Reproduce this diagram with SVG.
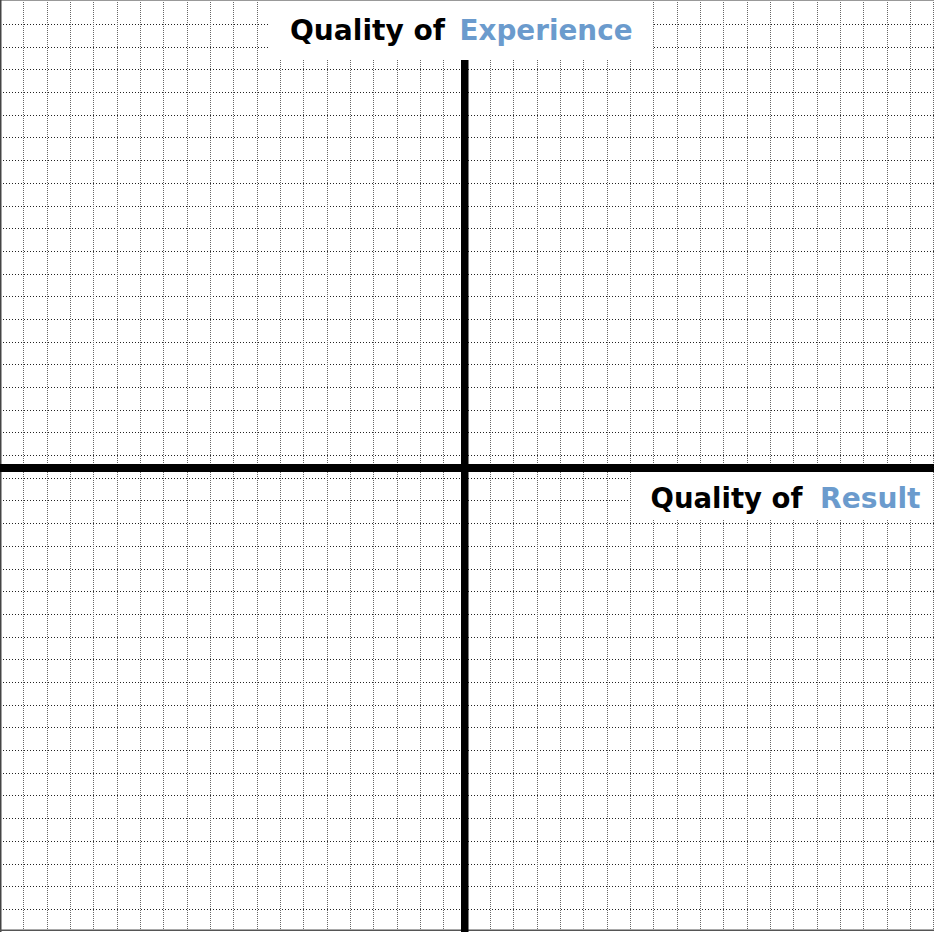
<svg xmlns="http://www.w3.org/2000/svg" width="934" height="932" viewBox="0 0 934 932">
  <style>
    .hgrid { fill: none; stroke: #222; stroke-width: 1; stroke-dasharray: 1 2; }
    .vgrid { fill: none; stroke: #666; stroke-width: 1; stroke-dasharray: 1 1; }
    .axis { fill: #000; }
    .box { fill: #fff; }
    .lbl { font-family: "DejaVu Sans", "Open Sans", "Liberation Sans", sans-serif; font-weight: 700; font-size: 29px; }
    .dark { fill: #000; }
    .blue { fill: #6b9bcd; }
  </style>
  <rect x="0" y="0" width="934" height="932" fill="#fff"/>
  <g id="grid">
    <path class="hgrid" d="M0 24.5H934M0 47.5H934M0 69.5H934M0 92.5H934M0 115.5H934M0 137.5H934M0 160.5H934M0 183.5H934M0 206.5H934M0 228.5H934M0 251.5H934M0 274.5H934M0 296.5H934M0 319.5H934M0 342.5H934M0 364.5H934M0 387.5H934M0 410.5H934M0 432.5H934M0 455.5H934M0 478.5H934M0 500.5H934M0 523.5H934M0 546.5H934M0 569.5H934M0 591.5H934M0 614.5H934M0 637.5H934M0 659.5H934M0 682.5H934M0 705.5H934M0 727.5H934M0 750.5H934M0 773.5H934M0 795.5H934M0 818.5H934M0 841.5H934M0 864.5H934M0 886.5H934M0 909.5H934"/>
    <path class="vgrid" d="M23.5 0V932M47.5 0V932M70.5 0V932M93.5 0V932M117.5 0V932M140.5 0V932M163.5 0V932M187.5 0V932M210.5 0V932M233.5 0V932M257.5 0V932M280.5 0V932M303.5 0V932M327.5 0V932M350.5 0V932M373.5 0V932M397.5 0V932M420.5 0V932M443.5 0V932M467.5 0V932M490.5 0V932M513.5 0V932M537.5 0V932M560.5 0V932M583.5 0V932M607.5 0V932M630.5 0V932M653.5 0V932M677.5 0V932M700.5 0V932M723.5 0V932M747.5 0V932M770.5 0V932M793.5 0V932M817.5 0V932M840.5 0V932M863.5 0V932M887.5 0V932M910.5 0V932M933.5 0V932"/>
  </g>
  <g id="frame">
    <rect x="0" y="0" width="934" height="1" fill="#999"/>
    <rect x="0" y="0" width="1.5" height="932" fill="#444"/>
    <rect x="0" y="929.5" width="934" height="1.5" fill="#555"/>
  </g>
  <g id="connectors">
    <rect class="axis" x="0" y="464" width="934" height="8"/>
    <rect class="axis" x="461" y="60" width="7.5" height="872"/>
  </g>
  <g id="label-experience">
    <rect class="box" x="270" y="1" width="382" height="59"/>
    <text class="lbl dark" x="290" y="39.5" textLength="155" lengthAdjust="spacingAndGlyphs">Quality of</text>
    <text class="lbl blue" x="459.5" y="39.5" textLength="173" lengthAdjust="spacingAndGlyphs">Experience</text>
  </g>
  <g id="label-result">
    <rect class="box" x="632" y="472" width="300" height="48"/>
    <text class="lbl dark" x="650.5" y="507.5" textLength="152" lengthAdjust="spacingAndGlyphs">Quality of</text>
    <text class="lbl blue" x="820" y="507.5" textLength="100.5" lengthAdjust="spacingAndGlyphs">Result</text>
  </g>
</svg>
